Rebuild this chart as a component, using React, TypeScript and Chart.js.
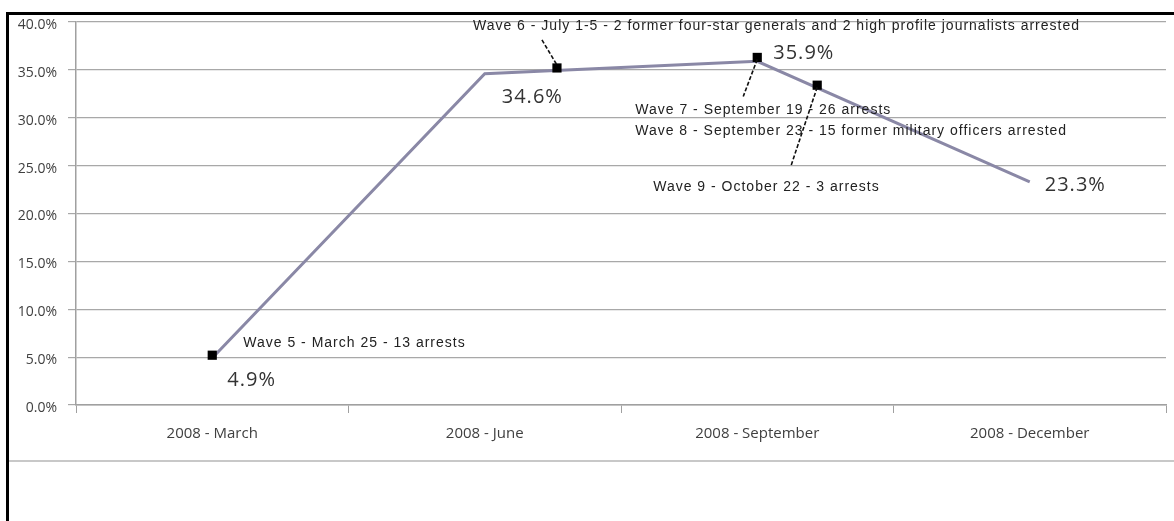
import React, { useEffect, useRef } from 'react';
import { Chart, registerables } from 'chart.js';

Chart.register(...registerables);

// ---- data ----
const categories = ['2008 - March', '2008 - June', '2008 - September', '2008 - December'];
const shareValues = [4.9, 34.6, 35.9, 23.3];
const valueLabels = ['4.9%', '34.6%', '35.9%', '23.3%'];
const yMin = 0;
const yMax = 40;
const yStep = 5;
const waveMarkerX = [0, 1.265, 2.0, 2.22];
const waveMarkerY = [5.2, 35.2, 36.3, 33.4];
const waveTexts = [
  'Wave 5 - March 25 - 13 arrests',
  'Wave 6 - July 1-5 - 2 former four-star generals and 2 high profile journalists arrested',
  'Wave 7 - September 19 - 26 arrests',
  'Wave 8 - September 23 - 15 former military officers arrested',
  'Wave 9 - October 22 - 3 arrests',
];

// ---- layout for annotations (pixel offsets) ----
const valueLabelOffsets = [[15, 22], [17, 24], [16, -8], [15, 3]];
const waveTextMarker = [0, 1, 2, 3, 3];
const waveTextOffsets = [[31, -12], [-84, -42], [-122, 53], [-182, 46], [-164, 102]];
const leaderLines = [
  { m: 1, from: [-15, -28], to: [0, -3] },
  { m: 2, from: [0, 2], to: [-14, 39] },
  { m: 3, from: [0, 2], to: [-26, 80] },
];

const W = 1174;
const H = 521;

const annotationPlugin = {
  id: 'annotations',
  beforeDraw(chart: any) {
    const ctx = chart.ctx;
    ctx.save();
    ctx.fillStyle = '#ffffff';
    ctx.fillRect(0, 0, W, H);
    // gray bottom rule
    ctx.fillStyle = '#c8c8c8';
    ctx.fillRect(9, 460, W - 9, 2);
    // black frame
    ctx.fillStyle = '#000000';
    ctx.fillRect(6, 12, W - 6, 3);
    ctx.fillRect(6, 12, 3, H - 12);
    ctx.restore();
  },
  afterDatasetsDraw(chart: any) {
    const ctx = chart.ctx;
    const xs = chart.scales.x;
    const xw = chart.scales.xw;
    const ys = chart.scales.y;
    ctx.save();
    // value labels
    ctx.font = '20px "Open Sans"';
    (ctx as any).letterSpacing = '1px';
    ctx.fillStyle = '#333333';
    ctx.textBaseline = 'middle';
    ctx.textAlign = 'left';
    shareValues.forEach((v, i) => {
      const px = xs.getPixelForValue(i);
      const py = ys.getPixelForValue(v);
      const o = valueLabelOffsets[i];
      ctx.fillText(valueLabels[i], px + o[0], py + o[1]);
    });
    // leader lines
    ctx.strokeStyle = '#111111';
    ctx.lineWidth = 1.6;
    ctx.setLineDash([4, 2]);
    leaderLines.forEach((l) => {
      const mx = xw.getPixelForValue(waveMarkerX[l.m]);
      const my = ys.getPixelForValue(waveMarkerY[l.m]);
      ctx.beginPath();
      ctx.moveTo(mx + l.from[0], my + l.from[1]);
      ctx.lineTo(mx + l.to[0], my + l.to[1]);
      ctx.stroke();
    });
    ctx.setLineDash([]);
    // wave texts
    ctx.font = '14px "Liberation Sans"';
    (ctx as any).letterSpacing = '1px';
    ctx.fillStyle = '#222222';
    waveTexts.forEach((t, i) => {
      const m = waveTextMarker[i];
      const mx = xw.getPixelForValue(waveMarkerX[m]);
      const my = ys.getPixelForValue(waveMarkerY[m]);
      const o = waveTextOffsets[i];
      ctx.fillText(t, mx + o[0], my + o[1]);
    });
    ctx.restore();
  },
};

export default function App() {
  const canvasRef = useRef<HTMLCanvasElement | null>(null);

  useEffect(() => {
    document.body.style.margin = '0';
    const canvas = canvasRef.current;
    if (!canvas) return;
    const chart = new Chart(canvas, {
      type: 'line',
      data: {
        labels: categories,
        datasets: [
          {
            type: 'line',
            data: shareValues,
            borderColor: '#8a88a6',
            borderWidth: 3,
            pointRadius: 0,
            tension: 0,
            fill: false,
            order: 2,
          } as any,
          {
            type: 'scatter',
            xAxisID: 'xw',
            data: waveMarkerX.map((x, i) => ({ x, y: waveMarkerY[i] })),
            pointStyle: 'rect',
            pointRadius: 6.5,
            backgroundColor: '#000000',
            borderWidth: 0,
            showLine: false,
            order: 1,
          } as any,
        ],
      },
      options: {
        responsive: false,
        animation: false,
        devicePixelRatio: 1,
        layout: { padding: { top: 22, right: 8, left: 0, bottom: 0 } },
        plugins: {
          legend: { display: false },
          tooltip: { enabled: false },
          title: { display: false },
        },
        scales: {
          x: {
            type: 'category',
            offset: true,
            grid: {
              offset: true,
              drawOnChartArea: false,
              drawTicks: true,
              tickLength: 8,
              color: '#a0a0a0',
              lineWidth: 1,
            },
            border: { display: true, color: '#a0a0a0', width: 1.5 },
            ticks: {
              color: '#404040',
              font: { family: '"Open Sans"', size: 15 },
              padding: 12,
              maxRotation: 0,
            },
            afterFit: (s: any) => {
              s.height = 116;
            },
          },
          xw: {
            type: 'linear',
            display: false,
            min: -0.5,
            max: 3.5,
          },
          y: {
            type: 'linear',
            min: yMin,
            max: yMax,
            ticks: {
              stepSize: yStep,
              color: '#404040',
              font: { family: '"Open Sans"', size: 14 },
              padding: 11,
              labelOffset: 3,
              callback: (v: any) => Number(v).toFixed(1) + '%',
            },
            grid: {
              color: '#a8a8a8',
              lineWidth: 1.2,
              tickLength: 8,
            },
            border: { display: true, color: '#a0a0a0', width: 1.5 },
            afterFit: (s: any) => {
              s.width = 76;
            },
          },
        },
      },
      plugins: [annotationPlugin],
    });
    return () => chart.destroy();
  }, []);

  return (
    <div style={{ position: 'absolute', left: 0, top: 0, width: W, height: H }}>
      <canvas ref={canvasRef} width={W} height={H} style={{ display: 'block', width: W, height: H }} />
    </div>
  );
}
